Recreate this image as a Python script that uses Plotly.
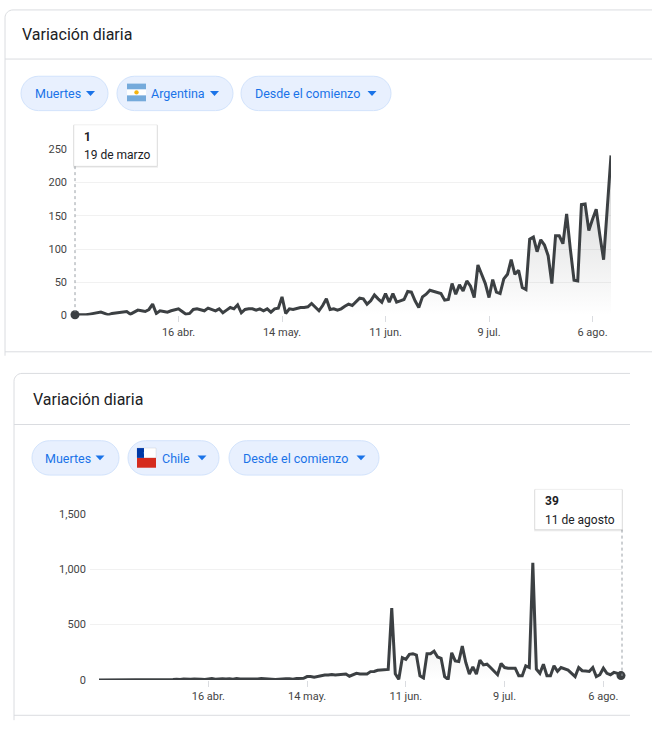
import pandas as pd
import plotly.graph_objects as go

W, H = 652, 738

# daily deaths, Argentina from 19 Mar 2020, Chile from 16 Mar 2020
ar_start = "2020-03-19"
ar_deaths = [1, 1, 0, 1, 2, 3, 4, 5, 3, 1,
             3, 4, 4, 5, 6, 2, 5, 8, 7, 6,
             9, 17, 3, 7, 6, 5, 7, 8, 10, 6,
             2, 3, 9, 10, 8, 7, 11, 9, 7, 10,
             4, 8, 12, 10, 16, 4, 9, 10, 10, 8,
             10, 7, 10, 5, 10, 11, 28, 3, 10, 9,
             11, 12, 12, 13, 18, 12, 7, 15, 25, 9,
             10, 8, 10, 14, 17, 15, 20, 26, 25, 17,
             22, 31, 25, 20, 33, 20, 33, 20, 22, 24,
             36, 35, 22, 12, 28, 32, 38, 36, 35, 33,
             23, 24, 48, 32, 46, 37, 52, 44, 27, 76,
             62, 48, 27, 54, 35, 33, 55, 62, 84, 62,
             68, 42, 39, 115, 118, 96, 114, 106, 90, 48,
             120, 120, 108, 153, 100, 53, 52, 167, 168, 128,
             145, 160, 120, 84, 162, 241]

cl_start = "2020-03-16"
cl_deaths = [0, 0, 0, 0, 0, 1, 0, 1, 0, 0,
             1, 1, 2, 1, 2, 3, 4, 1, 6, 4,
             5, 3, 7, 4, 8, 5, 7, 8, 10, 6,
             4, 11, 12, 6, 10, 10, 8, 11, 7, 13,
             9, 9, 6, 11, 12, 9, 13, 9, 11, 7,
             4, 8, 12, 10, 11, 6, 12, 11, 15, 30,
             31, 25, 33, 35, 45, 45, 49, 45, 48, 50,
             53, 33, 44, 59, 54, 57, 54, 75, 77, 87,
             89, 90, 95, 649, 55, 5, 201, 186, 231, 237,
             225, 38, 18, 237, 236, 260, 207, 195, 30, 4,
             245, 172, 166, 305, 157, 53, 118, 53, 178, 136,
             142, 112, 80, 47, 148, 112, 106, 106, 106, 38,
             38, 127, 112, 1057, 98, 59, 142, 38, 38, 127,
             77, 112, 100, 89, 60, 30, 112, 83, 80, 77,
             112, 30, 47, 106, 59, 47, 68, 59, 39]

tick_dates = ["2020-04-16", "2020-05-14", "2020-06-11", "2020-07-09", "2020-08-06"]
tick_labels = ["16 abr.", "14 may.", "11 jun.", "9 jul.", "6 ago."]

chips_ar = ["Muertes", "Argentina", "Desde el comienzo"]
chips_cl = ["Muertes", "Chile", "Desde el comienzo"]
title_text = "Variación diaria"
ar_tip_date = "19 de marzo"
cl_tip_date = "11 de agosto"

ar_dates = pd.date_range(ar_start, periods=len(ar_deaths), freq="D")
cl_dates = pd.date_range(cl_start, periods=len(cl_deaths), freq="D")

LINE = "#3c4043"
BORDER = "#dadce0"
BLUE = "#1a73e8"
FONT = "Roboto, Arial, sans-serif"


def X(p):
    return p / W


def Y(p):
    return 1 - p / H


def rrect(x0, y0, x1, y1, r):
    k = 0.5523 * r
    return " ".join([
        f"M{X(x0 + r)},{Y(y0)}", f"L{X(x1 - r)},{Y(y0)}",
        f"C{X(x1 - r + k)},{Y(y0)} {X(x1)},{Y(y0 + r - k)} {X(x1)},{Y(y0 + r)}",
        f"L{X(x1)},{Y(y1 - r)}",
        f"C{X(x1)},{Y(y1 - r + k)} {X(x1 - r + k)},{Y(y1)} {X(x1 - r)},{Y(y1)}",
        f"L{X(x0 + r)},{Y(y1)}",
        f"C{X(x0 + r - k)},{Y(y1)} {X(x0)},{Y(y1 - r + k)} {X(x0)},{Y(y1 - r)}",
        f"L{X(x0)},{Y(y0 + r)}",
        f"C{X(x0)},{Y(y0 + r - k)} {X(x0 + r - k)},{Y(y0)} {X(x0 + r)},{Y(y0)}", "Z"])


shapes = []
annotations = []


def hline(x0, x1, y, color=BORDER):
    shapes.append(dict(type="line", xref="paper", yref="paper", x0=X(x0), x1=X(x1),
                       y0=Y(y), y1=Y(y), line=dict(color=color, width=1)))


def box(x0, y0, x1, y1, fill, line=None):
    shapes.append(dict(type="rect", xref="paper", yref="paper", x0=X(x0), x1=X(x1),
                       y0=Y(y1), y1=Y(y0), fillcolor=fill,
                       line=dict(width=0) if line is None else dict(color=line, width=1)))


def text(x, y, s, size, color="#202124", bold=False):
    if bold:
        s = "<b>" + s + "</b>"
    annotations.append(dict(xref="paper", yref="paper", x=X(x), y=Y(y), text=s,
                            showarrow=False, xanchor="left", yanchor="middle",
                            font=dict(family=FONT, size=size, color=color)))


def card(left, top, right, bottom_line, left_end, divider):
    r = 8
    k = 0.5523 * r
    shapes.append(dict(type="path", xref="paper", yref="paper",
                       path=f"M{X(left)},{Y(left_end)} L{X(left)},{Y(top + r)} "
                            f"C{X(left)},{Y(top + r - k)} {X(left + r - k)},{Y(top)} {X(left + r)},{Y(top)} "
                            f"L{X(right)},{Y(top)}",
                       line=dict(color=BORDER, width=1)))
    hline(left, right, divider)
    hline(left, right, bottom_line)


def chip(x0, x1, yc, label, tx, ax):
    shapes.append(dict(type="path", xref="paper", yref="paper",
                       path=rrect(x0, yc - 17.5, x1, yc + 17.5, 17.5),
                       fillcolor="#e8f0fe", line=dict(color="#d2e3fc", width=1)))
    text(tx, yc + 0.5, label, 12.5, BLUE)
    shapes.append(dict(type="path", xref="paper", yref="paper",
                       path=f"M{X(ax - 4.5)},{Y(yc - 2.5)} L{X(ax + 4.5)},{Y(yc - 2.5)} "
                            f"L{X(ax)},{Y(yc + 2.5)} Z",
                       fillcolor=BLUE, line=dict(width=0)))


def tooltip(x0, y0, x1, y1, value, date):
    box(x0 - 1, y0, x1 + 1, y1 + 2, "rgba(0,0,0,0.05)")
    box(x0 - 0.5, y0 + 0.5, x1 + 0.5, y1 + 1, "rgba(0,0,0,0.07)")
    box(x0, y0, x1, y1, "white", "rgba(0,0,0,0.06)")
    text(x0 + 8, y0 + 12, value, 12, "#202124", bold=True)
    text(x0 + 8, y0 + 31, date, 12, "#202124")


# ---- cards, titles, chips
card(5, 4, 652, 352, 356, 54)
text(20, 29, title_text, 16)
chip(21, 108, 89, chips_ar[0], 33, 90.5)
chip(117, 233, 89, chips_ar[1], 149, 214.5)
chip(241, 391, 89, chips_ar[2], 253, 372)
# Argentina flag
box(127, 79, 146, 85, "#75aadb")
box(127, 85, 146, 91, "#ffffff")
box(127, 91, 146, 97, "#75aadb")
shapes.append(dict(type="circle", xref="paper", yref="paper", x0=X(134.3), x1=X(138.7),
                   y0=Y(90.2), y1=Y(85.8), fillcolor="#f6b40e", line=dict(width=0)))

card(14, 374, 630, 722, 727, 426)
text(31, 401, title_text, 16)
chip(32, 119, 460, chips_cl[0], 43, 100)
chip(128, 219, 460, chips_cl[1], 160, 202)
chip(229, 379, 460, chips_cl[2], 241, 361)
# Chile flag
box(137, 450, 156, 460, "#ffffff", "rgba(0,0,0,0.08)")
box(137, 460, 156, 470, "#d52b1e")
box(137, 450, 144, 460, "#0039a6")
annotations.append(dict(xref="paper", yref="paper", x=X(140.5), y=Y(455), text="★",
                        showarrow=False, font=dict(size=5, color="white")))

# ---- hover guides and tooltips
shapes.append(dict(type="line", xref="paper", yref="paper", x0=X(75), x1=X(75),
                   y0=Y(163), y1=Y(311), line=dict(color="#9aa0a6", width=1, dash="dot")))
shapes.append(dict(type="line", xref="paper", yref="paper", x0=X(622), x1=X(622),
                   y0=Y(533), y1=Y(682), line=dict(color="#9aa0a6", width=1, dash="dot")))
tooltip(74, 121, 157, 163, str(ar_deaths[0]), ar_tip_date)
tooltip(535, 492, 622, 533, str(cl_deaths[-1]), cl_tip_date)

fig = go.Figure()
grad_ar = dict(type="vertical", colorscale=[[0, "rgba(60,64,67,0)"], [1, "rgba(60,64,67,0.24)"]])
grad_cl = dict(type="vertical", colorscale=[[0, "rgba(60,64,67,0)"], [1, "rgba(60,64,67,0.22)"]])

fig.add_trace(go.Scatter(x=ar_dates, y=ar_deaths, mode="lines", fill="tozeroy", fillgradient=grad_ar,
                         line=dict(color=LINE, width=3), cliponaxis=False, hoverinfo="skip",
                         xaxis="x", yaxis="y"))
fig.add_trace(go.Scatter(x=[ar_dates[0]], y=[ar_deaths[0]], mode="markers",
                         marker=dict(color=LINE, size=9), cliponaxis=False, hoverinfo="skip",
                         xaxis="x", yaxis="y"))
fig.add_trace(go.Scatter(x=cl_dates, y=cl_deaths, mode="lines", fill="tozeroy", fillgradient=grad_cl,
                         line=dict(color=LINE, width=3), cliponaxis=False, hoverinfo="skip",
                         xaxis="x2", yaxis="y2"))
fig.add_trace(go.Scatter(x=[cl_dates[-1]], y=[cl_deaths[-1]], mode="markers",
                         marker=dict(color=LINE, size=9), cliponaxis=False, hoverinfo="skip",
                         xaxis="x2", yaxis="y2"))

tickfont = dict(family=FONT, size=11, color="#444444")
xcommon = dict(type="date", tickmode="array", tickvals=tick_dates, ticktext=tick_labels,
               ticks="outside", ticklen=6, tickcolor=BORDER, showgrid=False, zeroline=False,
               showline=False, tickfont=tickfont, fixedrange=True)
ycommon = dict(showgrid=True, gridcolor="#f1f1f1", gridwidth=1, zeroline=False, showline=False,
               ticks="", tickfont=tickfont, fixedrange=True)

fig.update_layout(
    width=W, height=H, margin=dict(l=0, r=0, t=0, b=0),
    paper_bgcolor="white", plot_bgcolor="white", showlegend=False,
    xaxis=dict(xcommon, domain=[X(75), X(611)], range=["2020-03-19", "2020-08-11"], anchor="y"),
    yaxis=dict(ycommon, domain=[Y(315), Y(146)], range=[0, 250], dtick=50, anchor="x",
               ticklabelstandoff=7),
    xaxis2=dict(xcommon, domain=[X(90), X(622)],
                range=["2020-03-13 10:48", "2020-08-11 06:48"], anchor="y2"),
    yaxis2=dict(ycommon, domain=[Y(686), Y(517)], range=[0, 1500], dtick=500, tickformat=",",
                anchor="x2", ticklabelstandoff=3),
    shapes=shapes, annotations=annotations,
)

# the page's default 8px body margin would push the figure off its 0,0 origin
fig.write_html("out.html", config={"displayModeBar": False},
               post_script="document.body.style.margin='0';"
                           "document.documentElement.style.overflow='hidden';")
